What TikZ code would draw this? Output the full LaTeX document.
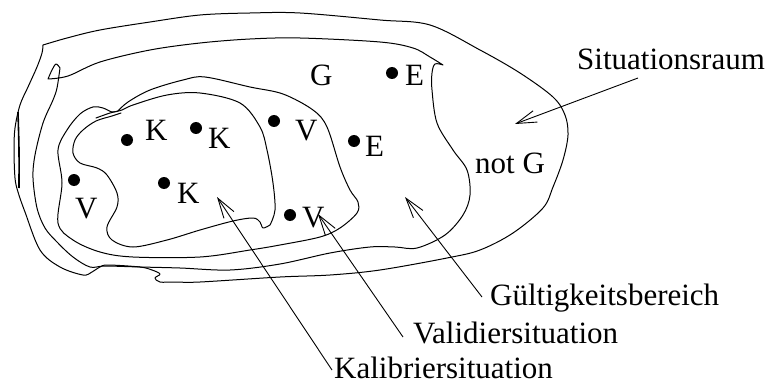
\documentclass[tikz,border=0pt]{standalone}
\usepackage{fontspec}
\setmainfont{Liberation Serif}
\usetikzlibrary{arrows.meta}
\tikzset{
  curve/.style={line width=1pt, line join=round, line cap=round},
  lbl/.style={anchor=base west, inner sep=0pt, font=\fontsize{31}{36}\selectfont},
  dot/.style={circle, fill=black, inner sep=0pt, minimum size=12pt},
  pointer/.style={line width=0.9pt, -{Straight Barb[length=20pt,width=12pt,line width=0.9pt]}},
}
\begin{document}
\begin{tikzpicture}[x=1pt,y=-1pt]
\useasboundingbox (0,0) rectangle (768,385);

% outer region (Situationsraum)
\draw[curve] plot[smooth, tension=0.55] coordinates {
 (43,45) (67,38) (100,30) (150,22) (200,15) (250,13) (300,13) (380,20) (430,25)
 (480,50) (520,73) (553,97) (565,115) (568,135) (563,160) (553,187) (543,208)
 (513,233) (480,250) (447,258) (380,270) (330,275) (280,277) (200,282) (175,282)
 (160,282) (155,278) (160,274) (152,270) (140,267) (108,265) (100,267) (92,272)
 (83,275) (60,267) (40,250) (25,212) (18,192) (15,178) (14,150) (15,128) (20,105)
 (28,87) (37,67) (42,53) (43,45)};
\draw[line width=1.6pt] plot[smooth] coordinates {(18,112) (19,150) (19,188)};

% G region (Gueltigkeitsbereich)
\draw[curve] plot[smooth, tension=0.55] coordinates {
 (48,79) (68,76) (100,62) (150,50) (200,43) (250,39) (300,38) (380,42) (413,48)
 (430,57) (443,65)} -- plot[smooth, tension=0.55] coordinates {
 (443,65) (435,64) (432,73) (432,90) (437,123) (453,150) (467,170) (470,195)
 (463,215) (445,235) (417,248) (395,247) (370,247) (330,253) (280,264) (230,270)
 (180,268) (140,267) (105,266) (90,267) (73,257) (57,242) (45,228) (37,208)
 (33,178) (35,155) (43,123) (53,100) (57,88) (60,68)} -- plot[smooth, tension=0.55] coordinates {
 (60,68) (56,64) (52,70) (48,79)};

% Validier region
\draw[curve] plot[smooth, tension=0.55] coordinates {
 (118,111) (128,102) (150,90) (183,80) (205,77) (250,87) (283,94) (313,110)
 (327,127) (340,167) (350,190) (358,202) (357,213) (340,228) (320,237) (280,245)
 (250,250) (200,257) (133,257) (100,252) (73,240) (58,223) (62,183) (58,150)
 (67,130) (80,114) (93,107) (103,108) (112,112) (118,111)};

% Kalibrier region
\draw[curve] plot[smooth, tension=0.55] coordinates {
 (96,118) (110,113) (122,110) (133,105) (167,95) (200,93) (240,103) (260,127)
 (267,150) (273,183) (275,210) (270,225)} -- plot[smooth, tension=0.55] coordinates {
 (270,225) (263,228) (260,222) (253,218) (233,221) (200,230) (167,240) (133,247)
 (112,240) (107,227) (117,207) (117,193) (107,175) (97,168) (80,163) (73,153)
 (75,140) (83,130) (96,121) (112,116) (121,113)};

% dots
\node[dot] (k1) at (127,140) {};
\node[dot] (k2) at (196,128) {};
\node[dot] (k3) at (164,183) {};
\node[dot] (v1) at (74,180) {};
\node[dot] (v2) at (274,121) {};
\node[dot] (v3) at (290,215) {};
\node[dot] (e1) at (392,73) {};
\node[dot] (e2) at (354,141) {};

% point labels
\node[lbl] (lk1) at (145,140) {K};
\node[lbl] (lk2) at (208,148) {K};
\node[lbl] (lk3) at (177,203) {K};
\node[lbl] (lv1) at (75,218) {V};
\node[lbl] (lv2) at (295,140) {V};
\node[lbl] (lv3) at (302,227) {V};
\node[lbl] (le1) at (405,86) {E};
\node[lbl] (le2) at (365,157) {E};
\node[lbl] (lg) at (310,86) {G};
\node[lbl] (lng) at (475,173) {not G};

% captions
\node[lbl] (sit) at (577,70) {Situationsraum};
\node[lbl] (gue) at (490,305) {Gültigkeitsbereich};
\node[lbl] (val) at (413,343) {Validiersituation};
\node[lbl] (kal) at (334,378) {Kalibriersituation};

% arrow ends
\coordinate (sitT) at (638,78);
\coordinate (sitH) at (515,124);
\coordinate (gueT) at (482,297);
\coordinate (gueH) at (405,197);
\coordinate (valT) at (403,337);
\coordinate (valH) at (318,214);
\coordinate (kalT) at (332,370);
\coordinate (kalH) at (217,197);

\draw[pointer] (sitT) -- (sitH);
\draw[pointer] (gueT) -- (gueH);
\draw[pointer] (valT) -- (valH);
\draw[pointer] (kalT) -- (kalH);
\end{tikzpicture}
\end{document}
